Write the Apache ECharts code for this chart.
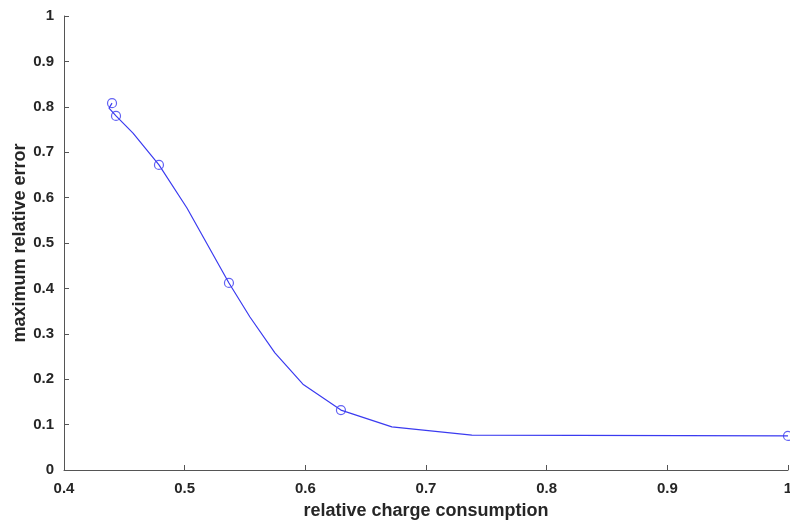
<!DOCTYPE html>
<html>
<head>
<meta charset="utf-8">
<script src="https://cdn.jsdelivr.net/npm/echarts@6/dist/echarts.min.js"></script>
<style>
html,body{margin:0;padding:0;background:#fff;}
#c{width:790px;height:520px;}
</style>
</head>
<body>
<div id="c"></div>
<script>
// Curve (polyline through interpolated points)
const lineX = [0.4398, 0.4373, 0.4431, 0.4572, 0.4787, 0.5019, 0.5367, 0.5541, 0.5748, 0.5980, 0.6295, 0.6717, 0.7380, 1.0];
const lineY = [0.808, 0.797, 0.780, 0.742, 0.672, 0.577, 0.412, 0.337, 0.258, 0.189, 0.132, 0.095, 0.077, 0.075];
// Circle markers (measured points)
const markerX = [0.4398, 0.4431, 0.4787, 0.5367, 0.6295, 1.0];
const markerY = [0.808, 0.780, 0.672, 0.412, 0.132, 0.075];
const xTicks = [0.4, 0.5, 0.6, 0.7, 0.8, 0.9, 1];
const yTicks = [0, 0.1, 0.2, 0.3, 0.4, 0.5, 0.6, 0.7, 0.8, 0.9, 1];
const xLabel = 'relative charge consumption';
const yLabel = 'maximum relative error';

const lineData = lineX.map((x, i) => [x, lineY[i]]);
const markerData = markerX.map((x, i) => [x, markerY[i]]);

const chart = echarts.init(document.getElementById('c'), null, {renderer: 'canvas'});
const FONT = 'Liberation Sans, Arial, sans-serif';
const labelStyle = {color: '#262626', fontFamily: FONT, fontWeight: 'bold', fontSize: 15};
const nameStyle = {color: '#262626', fontFamily: FONT, fontWeight: 'bold', fontSize: 18};
chart.setOption({
  animation: false,
  backgroundColor: '#ffffff',
  grid: {left: 64, right: 2, top: 16, bottom: 50, containLabel: false, outerBoundsMode: 'none'},
  xAxis: {
    type: 'value', min: xTicks[0], max: xTicks[xTicks.length - 1], interval: 0.1,
    name: xLabel, nameLocation: 'middle', nameGap: 32, nameMoveOverlap: false,
    nameTextStyle: nameStyle,
    axisLine: {show: true, lineStyle: {color: '#555', width: 1}},
    axisTick: {show: true, inside: true, length: 5, lineStyle: {color: '#555'}},
    axisLabel: Object.assign({margin: 11, formatter: v => String(+v.toFixed(2))}, labelStyle),
    splitLine: {show: false}
  },
  yAxis: {
    type: 'value', min: yTicks[0], max: yTicks[yTicks.length - 1], interval: 0.1,
    name: yLabel, nameLocation: 'middle', nameGap: 35, nameRotate: 90, nameMoveOverlap: false,
    nameTextStyle: nameStyle,
    axisLine: {show: true, lineStyle: {color: '#555', width: 1}},
    axisTick: {show: true, inside: true, length: 5, lineStyle: {color: '#555'}},
    axisLabel: Object.assign({margin: 10, formatter: v => String(+v.toFixed(2))}, labelStyle),
    splitLine: {show: false}
  },
  series: [
    {
      type: 'line', data: lineData, showSymbol: false, symbol: 'none', smooth: false,
      lineStyle: {color: '#3b3bf0', width: 1.2}, silent: true
    },
    {
      type: 'scatter', data: markerData, symbol: 'circle', symbolSize: 9,
      itemStyle: {color: 'rgba(255,255,255,0)', borderColor: '#3b3bf0', borderWidth: 1.2}
    }
  ]
});
</script>
</body>
</html>
